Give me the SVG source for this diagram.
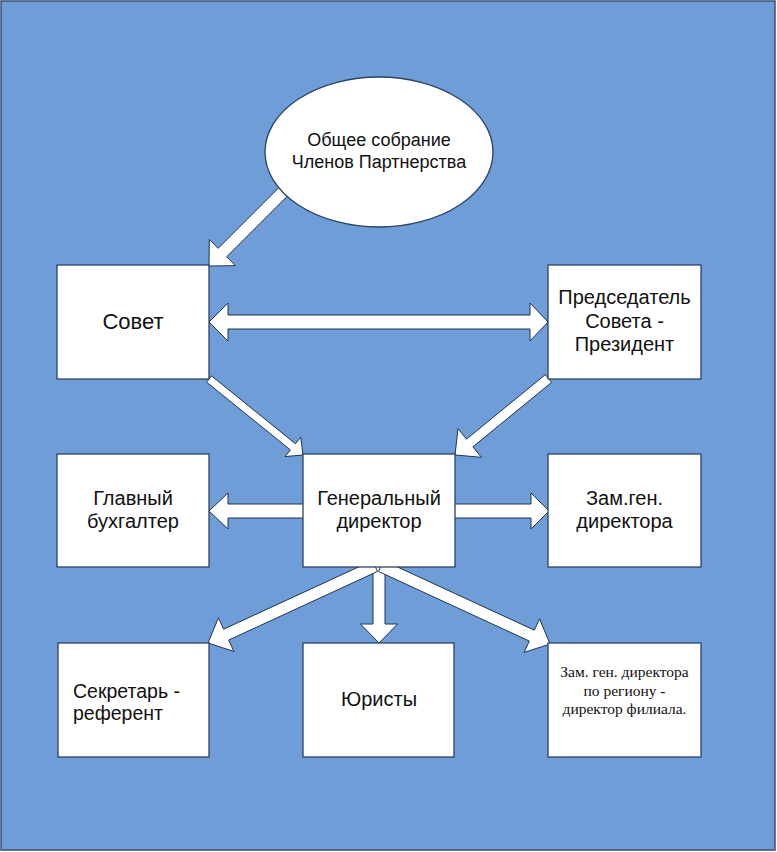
<svg xmlns="http://www.w3.org/2000/svg" width="777" height="852" viewBox="0 0 777 852">
<style>
.bg{fill:#6f9dd8;stroke:#3a4f6b;stroke-width:1.5}
.box{fill:#ffffff;stroke:#2b4262;stroke-width:1.3}
.arr{fill:#ffffff;stroke:#1e3452;stroke-width:1;stroke-linejoin:miter}
.t{font-family:"Liberation Sans",Arial,sans-serif;font-size:20px;fill:#111;text-anchor:middle}
.ts{font-family:"Liberation Serif","Times New Roman",serif;font-size:15.5px;fill:#111;text-anchor:middle}
</style>
<rect class="bg" x="1" y="1" width="774" height="849"/>
<g id="connectors">
<polygon id="c-sobranie-sovet" class="arr" points="285.76,180.76 218.19,248.33 209.35,239.49 209,266 235.51,265.65 226.67,256.81 294.24,189.24"/>
<polygon id="c-sovet-president" class="arr" points="209,322 228,303 228,315 530,315 530,303 548,322 530,341 530,329 228,329 228,341"/>
<polygon id="c-sovet-gendir" class="arr" points="206.49,382.11 290.38,449.94 285.03,456.55 303,455 300.75,437.11 295.40,443.72 211.51,375.89"/>
<polygon id="c-president-gendir" class="arr" points="545.33,374.63 466.54,439.10 458,428.65 455,455 481.42,457.29 472.88,446.84 551.67,382.37"/>
<polygon id="c-gendir-buh" class="arr" points="305,504 228,504 228,493 209,511 228,529 228,518 305,518"/>
<polygon id="c-gendir-zam" class="arr" points="453,504 531,504 531,493 549,511 531,529 531,518 453,518"/>
<polygon id="c-gendir-yur" class="arr" points="373,565 373,624 360.5,624 379,643 397.5,624 385,624 385,565"/>
<polygon id="c-gendir-sekr" class="arr" points="372.49,560.55 223.65,629.18 218.41,617.83 208,643 233.91,651.43 228.67,640.08 377.51,571.45"/>
<polygon id="c-gendir-filial" class="arr" points="378.49,571.45 529.33,641.07 524.09,652.42 550,644 539.59,618.82 534.33,630.17 383.51,560.55"/>
</g>
<g id="n-sobranie">
<ellipse class="box" cx="379" cy="152" rx="114" ry="75"/>
<text class="t" style="font-size:18px" x="379" y="146">Общее собрание</text>
<text class="t" style="font-size:18px" x="379" y="168">Членов Партнерства</text>
</g>
<g id="n-sovet">
<rect class="box" x="57" y="265" width="152" height="114"/>
<text class="t" style="font-size:22px" x="133" y="329">Совет</text>
</g>
<g id="n-president">
<rect class="box" x="548" y="265" width="153" height="114"/>
<text class="t" x="624.5" y="304">Председатель</text>
<text class="t" x="624.5" y="327.5">Совета -</text>
<text class="t" x="624.5" y="351">Президент</text>
</g>
<g id="n-buh">
<rect class="box" x="57" y="454" width="152" height="113"/>
<text class="t" x="133" y="505">Главный</text>
<text class="t" x="133" y="528">бухгалтер</text>
</g>
<g id="n-gendir">
<rect class="box" x="303" y="454" width="152" height="113"/>
<text class="t" x="379" y="505">Генеральный</text>
<text class="t" x="379" y="528">директор</text>
</g>
<g id="n-zam">
<rect class="box" x="548" y="454" width="153" height="113"/>
<text class="t" x="624.5" y="505">Зам.ген.</text>
<text class="t" x="624.5" y="528">директора</text>
</g>
<g id="n-sekr">
<rect class="box" x="58" y="643" width="151" height="114"/>
<text class="t" style="text-anchor:start;font-size:19.5px" x="73" y="698">Секретарь -</text>
<text class="t" style="text-anchor:start;font-size:19.5px" x="73" y="720">референт</text>
</g>
<g id="n-yur">
<rect class="box" x="303" y="643" width="151" height="114"/>
<text class="t" x="379" y="706">Юристы</text>
</g>
<g id="n-filial">
<rect class="box" x="548" y="643" width="153" height="114"/>
<text class="ts" x="624.5" y="677">Зам. ген. директора</text>
<text class="ts" x="624.5" y="695.5">по региону -</text>
<text class="ts" x="624.5" y="714">директор филиала.</text>
</g>
</svg>
